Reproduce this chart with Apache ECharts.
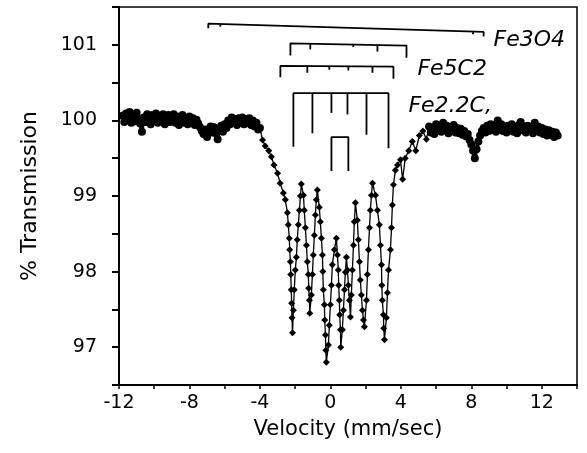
<!DOCTYPE html>
<html>
<head>
<meta charset="utf-8">
<script src="https://cdn.jsdelivr.net/npm/echarts@6/dist/echarts.min.js"></script>
<style>
  html, body { margin: 0; padding: 0; background: #fff; }
  #chart { width: 587px; height: 453px; }
</style>
</head>
<body>
<div id="chart"></div>
<script>
// velocity (mm/sec) / % transmission
// flat part left of the absorption
const leftVelocity = [
  -11.8, -11.7, -11.6, -11.5, -11.4, -11.3, -11.2, -11.1, -11.0, -10.9,
  -10.8, -10.7, -10.6, -10.5, -10.4, -10.3, -10.2, -10.1, -10.0, -9.9,
  -9.8, -9.7, -9.6, -9.5, -9.4, -9.3, -9.2, -9.1, -9.0, -8.9,
  -8.8, -8.7, -8.6, -8.5, -8.4, -8.3, -8.2, -8.1, -8.0, -7.9,
  -7.8, -7.7, -7.6, -7.5, -7.4, -7.3, -7.2, -7.1, -7.0, -6.9,
  -6.8, -6.7, -6.6, -6.5, -6.4, -6.3, -6.2, -6.1, -6.0, -5.9,
  -5.8, -5.7, -5.6, -5.5, -5.4, -5.3, -5.2, -5.1, -5.0, -4.9,
  -4.8, -4.7, -4.6, -4.5, -4.4, -4.3, -4.2, -4.1, -4.0
]
const leftTransmission = [
  100.06, 99.98, 100.09, 100.01, 100.11, 99.97, 100.05, 99.99, 100.10, 100.02,
  99.96, 99.85, 100.04, 99.98, 100.08, 100.00, 99.95, 100.07, 100.02, 100.09,
  99.97, 100.05, 100.01, 100.08, 99.95, 100.04, 100.07, 99.98, 100.03, 100.08,
  99.97, 100.05, 99.94, 100.04, 100.07, 99.97, 100.02, 99.95, 100.05, 99.98,
  100.03, 99.94, 100.01, 99.96, 99.91, 99.86, 99.82, 99.88, 99.78, 99.86,
  99.92, 99.84, 99.91, 99.83, 99.75, 99.88, 99.93, 99.85, 99.95, 99.90,
  100.00, 99.95, 100.04, 99.97, 100.02, 99.94, 100.03, 99.98, 100.04, 99.95,
  100.02, 99.97, 100.03, 99.94, 100.00, 99.92, 99.97, 99.88, 99.90
]
// the absorption lines
const dipVelocity = [
  -3.85, -3.7, -3.5, -3.35, -3.2, -3.0, -2.85, -2.67, -2.56, -2.44,
  -2.39, -2.33, -2.31, -2.27, -2.25, -2.22, -2.2, -2.18, -2.15, -2.1,
  -2.05, -1.99, -1.93, -1.88, -1.82, -1.76, -1.7, -1.65, -1.53, -1.48,
  -1.42, -1.36, -1.31, -1.25, -1.23, -1.19, -1.17, -1.08, -1.02, -0.97,
  -0.91, -0.85, -0.8, -0.74, -0.63, -0.57, -0.51, -0.45, -0.43, -0.4,
  -0.34, -0.32, -0.28, -0.26, -0.23, -0.11, -0.06, 0.0, 0.06, 0.11,
  0.23, 0.34, 0.4, 0.45, 0.47, 0.51, 0.53, 0.57, 0.59, 0.68,
  0.74, 0.8, 0.85, 0.91, 0.97, 1.02, 1.08, 1.14, 1.19, 1.25,
  1.31, 1.36, 1.42, 1.53, 1.59, 1.65, 1.7, 1.76, 1.82, 1.88,
  1.93, 2.05, 2.1, 2.16, 2.22, 2.27, 2.33, 2.39, 2.56, 2.67,
  2.78, 2.84, 2.9, 2.92, 2.95, 3.01, 3.03, 3.07, 3.18, 3.24,
  3.3, 3.41, 3.47, 3.52, 3.58, 3.69, 3.81, 3.98, 4.1, 4.25,
  4.45, 4.65, 4.85, 5.05, 5.25, 5.45
]
const dipTransmission = [
  99.74, 99.66, 99.60, 99.52, 99.41, 99.30, 99.17, 99.04, 98.95, 98.78,
  98.62, 98.44, 98.29, 98.13, 97.96, 97.76, 97.58, 97.39, 97.19, 97.49,
  97.76, 98.02, 98.19, 98.42, 98.62, 98.81, 99.00, 99.16, 99.01, 98.81,
  98.58, 98.35, 98.13, 97.96, 97.78, 97.62, 97.45, 97.69, 97.96, 98.22,
  98.48, 98.75, 98.95, 99.08, 98.85, 98.66, 98.44, 98.22, 98.00, 97.76,
  97.56, 97.36, 97.16, 96.96, 96.80, 97.03, 97.29, 97.56, 97.82, 98.09,
  98.29, 98.44, 98.22, 98.02, 97.82, 97.62, 97.43, 97.23, 97.00, 97.23,
  97.49, 97.76, 97.99, 98.19, 98.02, 97.82, 97.62, 97.40, 97.69, 98.02,
  98.35, 98.66, 98.91, 98.68, 98.42, 98.13, 97.89, 97.69, 97.49, 97.36,
  97.27, 97.62, 97.96, 98.29, 98.58, 98.81, 99.01, 99.17, 99.01, 98.81,
  98.62, 98.35, 98.09, 97.82, 97.62, 97.43, 97.25, 97.10, 97.39, 97.72,
  98.02, 98.29, 98.58, 98.88, 99.15, 99.34, 99.41, 99.48, 99.22, 99.50,
  99.60, 99.72, 99.60, 99.80, 99.86, 99.75
]
// flat part right of the absorption (small Fe3O4 line near 8.2)
const rightVelocity = [
  5.6, 5.7, 5.8, 5.9, 6.0, 6.1, 6.2, 6.3, 6.4, 6.5,
  6.6, 6.7, 6.8, 6.9, 7.0, 7.1, 7.2, 7.3, 7.4, 7.5,
  7.6, 7.7, 7.8, 7.9, 8.0, 8.1, 8.2, 8.3, 8.4, 8.5,
  8.6, 8.7, 8.8, 8.9, 9.0, 9.1, 9.2, 9.3, 9.4, 9.5,
  9.6, 9.7, 9.8, 9.9, 10.0, 10.1, 10.2, 10.3, 10.4, 10.5,
  10.6, 10.7, 10.8, 10.9, 11.0, 11.1, 11.2, 11.3, 11.4, 11.5,
  11.6, 11.7, 11.8, 11.9, 12.0, 12.1, 12.2, 12.3, 12.4, 12.5,
  12.6, 12.7, 12.8, 12.9
]
const rightTransmission = [
  99.92, 99.84, 99.90, 99.82, 99.95, 99.87, 99.93, 99.85, 99.97, 99.88,
  99.93, 99.83, 99.91, 99.86, 99.94, 99.84, 99.90, 99.83, 99.89, 99.81,
  99.86, 99.79, 99.82, 99.74, 99.68, 99.60, 99.50, 99.62, 99.72, 99.80,
  99.86, 99.90, 99.84, 99.93, 99.86, 99.95, 99.88, 99.94, 99.85, 100.00,
  99.90, 99.95, 99.86, 99.92, 99.84, 99.93, 99.87, 99.95, 99.85, 99.91,
  99.83, 99.94, 99.98, 99.87, 99.92, 99.84, 99.93, 99.86, 99.90, 99.83,
  99.97, 99.88, 99.92, 99.84, 99.90, 99.82, 99.88, 99.80, 99.87, 99.81,
  99.85, 99.78, 99.84, 99.80
]

// stick diagrams for the phases, in (velocity, transmission) units
const fe3o4Lines = [
  [[-6.93, 101.22], [-6.93, 101.28], [8.7, 101.17], [8.7, 101.11]],
  [[-6.25, 101.27], [-6.25, 101.24]],
  [[8.1, 101.17], [8.1, 101.14]]
]
const fe5c2Lines = [
  [[-2.27, 100.86], [-2.27, 101.02], [4.32, 100.99], [4.32, 100.83]],
  [[-1.14, 101.02], [-1.14, 100.94]],
  [[1.3, 101.0], [1.3, 100.97]],
  [[2.67, 101.0], [2.67, 100.91]],
  [[-2.84, 100.57], [-2.84, 100.72], [3.58, 100.71], [3.58, 100.55]],
  [[-1.31, 100.72], [-1.31, 100.63]],
  [[-0.06, 100.72], [-0.06, 100.67]],
  [[1.02, 100.71], [1.02, 100.66]],
  [[2.39, 100.71], [2.39, 100.63]]
]
const fe22cLines = [
  [[-2.1, 99.65], [-2.1, 100.36], [3.3, 100.36], [3.3, 99.63]],
  [[-1.02, 100.36], [-1.02, 99.83]],
  [[0.06, 100.36], [0.06, 100.1]],
  [[0.97, 100.36], [0.97, 100.08]],
  [[2.05, 100.36], [2.05, 99.81]],
  [[0.06, 99.33], [0.06, 99.78], [1.02, 99.78], [1.02, 99.33]]
]
const phaseNames = ['Fe3O4', 'Fe5C2', 'Fe2.2C,']
const phaseLabelAt = [[9.26, 101.06], [4.94, 100.67], [4.43, 100.19]]

// ticks and labels
const xTicks = [-12, -10, -8, -6, -4, -2, 0, 2, 4, 6, 8, 10, 12, 14]
const xLabels = [-12, -8, -4, 0, 4, 8, 12]
const yTicks = [96.5, 97, 97.5, 98, 98.5, 99, 99.5, 100, 100.5, 101, 101.5]
const yLabels = [97, 98, 99, 100, 101]

const ink = '#000'
const font = 'DejaVu Sans'

const pairs = (xs, ys) => xs.map((v, i) => [v, ys[i]])
const leftData = pairs(leftVelocity, leftTransmission)
const rightData = pairs(rightVelocity, rightTransmission)
// the dip trace is joined to the last/first flat points so the line runs on
const dipData = [leftData[leftData.length - 1], ...pairs(dipVelocity, dipTransmission), rightData[0]]

const chart = echarts.init(document.getElementById('chart'))

// flat parts are a dense smudge in the scan, the dips are thinner
const baseSeries = data => ({
  type: 'line',
  data,
  symbol: 'circle',
  symbolSize: 8,
  showAllSymbol: true,
  itemStyle: { color: ink },
  lineStyle: { color: ink, width: 3.5 },
  z: 4
})

const stickSeries = [...fe3o4Lines, ...fe5c2Lines, ...fe22cLines].map(pts => ({
  type: 'line',
  data: pts,
  symbol: 'none',
  silent: true,
  lineStyle: { color: ink, width: 1.8 },
  z: 3
}))

chart.setOption({
  animation: false,
  backgroundColor: '#fff',
  grid: {
    left: 119, right: 10, top: 7, bottom: 68,
    containLabel: false,
    outerBoundsMode: 'none',
    show: true,
    borderColor: ink,
    borderWidth: 1.5
  },
  xAxis: {
    type: 'value',
    min: -12,
    max: 14,
    name: 'Velocity (mm/sec)',
    nameLocation: 'middle',
    nameGap: 34,
    nameTextStyle: { fontSize: 21, fontFamily: font, color: ink },
    axisLine: { onZero: false, lineStyle: { color: ink, width: 1.8 } },
    axisTick: { customValues: xTicks, length: 4, lineStyle: { color: ink, width: 1.5 } },
    axisLabel: { customValues: xLabels, fontSize: 19, fontFamily: font, color: ink, margin: 9 },
    splitLine: { show: false }
  },
  yAxis: {
    type: 'value',
    min: 96.5,
    max: 101.5,
    name: '% Transmission',
    nameLocation: 'middle',
    nameGap: 78,
    nameTextStyle: { fontSize: 22, fontFamily: font, color: ink },
    axisLine: { show: true, onZero: false, lineStyle: { color: ink, width: 2 } },
    axisTick: { customValues: yTicks, length: 7, lineStyle: { color: ink, width: 2 } },
    axisLabel: { customValues: yLabels, fontSize: 19, fontFamily: font, color: ink, margin: 22 },
    splitLine: { show: false }
  },
  series: [
    baseSeries(leftData),
    {
      type: 'line',
      data: dipData,
      symbol: 'diamond',
      symbolSize: 7,
      showAllSymbol: true,
      itemStyle: { color: ink },
      lineStyle: { color: ink, width: 1.3 },
      z: 4
    },
    baseSeries(rightData),
    ...stickSeries,
    {
      type: 'scatter',
      data: phaseLabelAt,
      symbolSize: 0,
      silent: true,
      label: {
        show: true,
        position: 'right',
        distance: 0,
        formatter: p => phaseNames[p.dataIndex],
        fontSize: 22,
        fontStyle: 'italic',
        fontFamily: font,
        color: ink,
        opacity: 1
      }
    }
  ]
})
</script>
</body>
</html>
